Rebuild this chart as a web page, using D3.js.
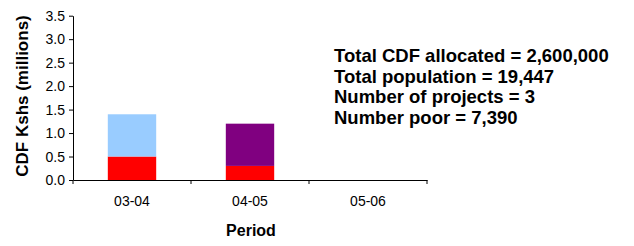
<!DOCTYPE html>
<html><head><meta charset="utf-8">
<script src="https://cdn.jsdelivr.net/npm/d3@7"></script>
<style>body{margin:0;background:#fff}svg{display:block}text{font-family:"Liberation Sans",Arial,sans-serif}</style>
</head><body><svg id="c" width="634" height="246"></svg>
<script>
const periods = ["03-04","04-05","05-06"];
const seriesNames = ["s1","s2","s3"];
const s1 = [0.5, 0.3, 0];
const s2 = [0.9, 0, 0];
const s3 = [0, 0.9, 0];
const colors = ["#FF0000","#99CCFF","#800080"];
const yTicks = [0,0.5,1.0,1.5,2.0,2.5,3.0,3.5];
const info = ["Total CDF allocated = 2,600,000","Total population = 19,447","Number of projects = 3","Number poor = 7,390"];

const svg = d3.select("#c");
const x = d3.scaleBand().domain(periods).range([73,427]).paddingInner(0).paddingOuter(0);
const y = d3.scaleLinear().domain([0,3.5]).range([180,15.7]);
const rows = periods.map((p,i)=>({p, s1:s1[i], s2:s2[i], s3:s3[i]}));
const stack = d3.stack().keys(seriesNames)(rows);
const bw = x.bandwidth()*0.41;
svg.append("g").selectAll("g").data(stack).join("g").attr("fill",(d,i)=>colors[i])
 .selectAll("rect").data(d=>d).join("rect")
 .attr("x",d=>x(d.data.p)+(x.bandwidth()-bw)/2).attr("width",bw)
 .attr("y",d=>y(d[1])).attr("height",d=>y(d[0])-y(d[1]));

const ya = svg.append("g").attr("transform","translate(73,0)")
 .call(d3.axisLeft(y).tickValues(yTicks).tickFormat(d3.format(".1f")).tickSize(4).tickSizeOuter(0));
ya.selectAll("text").attr("font-size",14).attr("fill","#000").attr("dx",-1);
ya.selectAll("line,path").attr("stroke","#000");

const xa = svg.append("g").attr("transform","translate(0,180)")
 .call(d3.axisBottom(x).tickSize(0).tickSizeOuter(0));
xa.selectAll("text").attr("font-size",14).attr("fill","#000").attr("y",26).attr("dy",0);
xa.select("path").attr("stroke","#000");
const bounds = periods.map(p=>x(p)).concat([x(periods[periods.length-1])+x.bandwidth()]);
svg.append("g").selectAll("line").data(bounds).join("line")
 .attr("x1",d=>d).attr("x2",d=>d).attr("y1",180).attr("y2",184).attr("stroke","#000");

svg.append("text").attr("x",251).attr("y",236).attr("text-anchor","middle")
 .attr("font-size",16).attr("font-weight","bold").text("Period");
svg.append("text").attr("transform","translate(28,96) rotate(-90)").attr("text-anchor","middle")
 .attr("font-size",17).attr("font-weight","bold").text("CDF Kshs (millions)");

svg.append("g").selectAll("text").data(info).join("text")
 .attr("x",334).attr("y",(d,i)=>62+i*20.5).attr("font-size",18.5).attr("font-weight","bold").text(d=>d);
</script></body></html>
